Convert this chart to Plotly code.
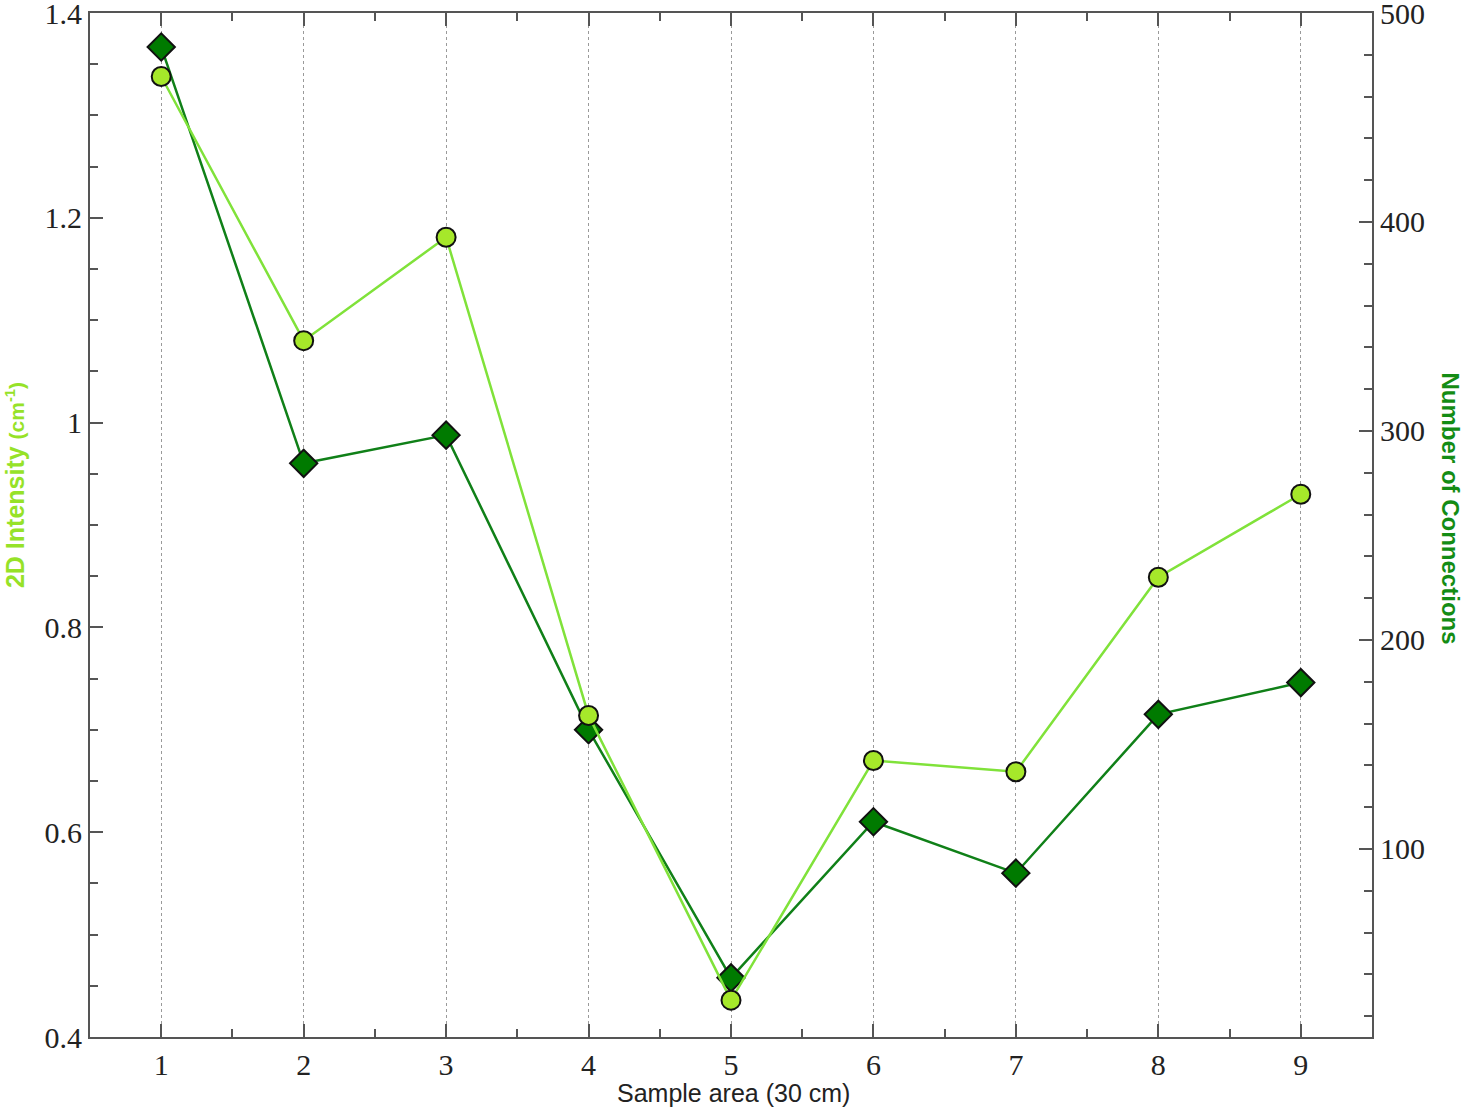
import plotly.graph_objects as go

sample_area = [1, 2, 3, 4, 5, 6, 7, 8, 9]
intensity_2d = [1.338, 1.080, 1.181, 0.714, 0.436, 0.670, 0.659, 0.849, 0.930]
connections = [483.7, 284.5, 298.0, 157.0, 38.3, 113.0, 88.4, 164.4, 179.6]

x_ticks = [1, 2, 3, 4, 5, 6, 7, 8, 9]

LIGHT_LINE = "rgb(128,226,58)"
LIGHT_FILL = "rgb(166,232,42)"
DARK_LINE = "rgb(16,128,24)"
DARK_FILL = "rgb(0,122,0)"
AXIS_COL = "#555555"
TICK_FONT = dict(family="Liberation Serif", size=30, color="#222222")

fig = go.Figure()

fig.add_trace(go.Scatter(
    x=sample_area, y=connections, mode="lines+markers", yaxis="y",
    line=dict(color=DARK_LINE, width=2.5),
    marker=dict(symbol="diamond", size=21, color=DARK_FILL,
                line=dict(color="#111111", width=2)),
    showlegend=False,
))
fig.add_trace(go.Scatter(
    x=sample_area, y=intensity_2d, mode="lines+markers", yaxis="y2",
    line=dict(color=LIGHT_LINE, width=2.5),
    marker=dict(symbol="circle", size=19, color=LIGHT_FILL,
                line=dict(color="#111111", width=2)),
    showlegend=False,
))

fig.update_layout(
    width=1465, height=1109,
    margin=dict(l=90, r=93, t=13, b=72, autoexpand=False),
    paper_bgcolor="white", plot_bgcolor="white",
    xaxis=dict(
        range=[0.5, 9.5], tickmode="array", tickvals=x_ticks,
        ticks="inside", ticklen=13, tickwidth=1.5, tickcolor=AXIS_COL,
        showline=True, linecolor=AXIS_COL, linewidth=2, mirror="ticks",
        showgrid=True, gridcolor="#9a9a9a", griddash="dot", gridwidth=1,
        zeroline=False, tickfont=TICK_FONT, ticklabeloverflow="allow",
        automargin=False,
        minor=dict(dtick=0.5, tick0=0.5, ticks="inside", ticklen=8,
                   tickwidth=1.5, tickcolor=AXIS_COL, showgrid=False),
    ),
    yaxis=dict(
        side="right", range=[10, 500.0001], tick0=0, dtick=100,
        ticks="inside", ticklen=13, tickwidth=1.5, tickcolor=AXIS_COL,
        showline=True, linecolor=AXIS_COL, linewidth=2,
        showgrid=False, zeroline=False, tickfont=TICK_FONT,
        ticklabeloverflow="allow", automargin=False,
        minor=dict(dtick=20, tick0=0, ticks="inside", ticklen=8,
                   tickwidth=1.5, tickcolor=AXIS_COL, showgrid=False),
    ),
    yaxis2=dict(
        side="left", overlaying="y", range=[0.4, 1.4000001], tick0=0.4, dtick=0.2,
        ticks="inside", ticklen=13, tickwidth=1.5, tickcolor=AXIS_COL,
        showline=True, linecolor=AXIS_COL, linewidth=2,
        showgrid=False, zeroline=False, tickfont=TICK_FONT,
        ticklabeloverflow="allow", automargin=False,
        minor=dict(dtick=0.05, tick0=0.4, ticks="inside", ticklen=8,
                   tickwidth=1.5, tickcolor=AXIS_COL, showgrid=False),
    ),
    annotations=[
        dict(text="Sample area (30 cm)", xref="paper", yref="paper",
             x=0.502, y=-0.0547, xanchor="center", yanchor="middle",
             showarrow=False,
             font=dict(family="Liberation Sans", size=25, color="#222222")),
        dict(text="<b>2D Intensity <span style='font-size:21px'>(cm<sup>-1</sup>)</span></b>",
             xref="paper", yref="paper", x=-0.0585, y=0.539,
             xanchor="center", yanchor="middle", textangle=-90, showarrow=False,
             font=dict(family="Liberation Sans", size=25, color="rgb(150,226,40)")),
        dict(text="<b>Number of Connections</b>",
             xref="paper", yref="paper", x=1.0609, y=0.516,
             xanchor="center", yanchor="middle", textangle=90, showarrow=False,
             font=dict(family="Liberation Sans", size=24, color="rgb(20,140,20)")),
    ],
)

fig.write_html(
    "out.html",
    config={"displayModeBar": False},
    post_script="document.body.style.margin='0px';document.body.style.overflow='hidden';",
)
